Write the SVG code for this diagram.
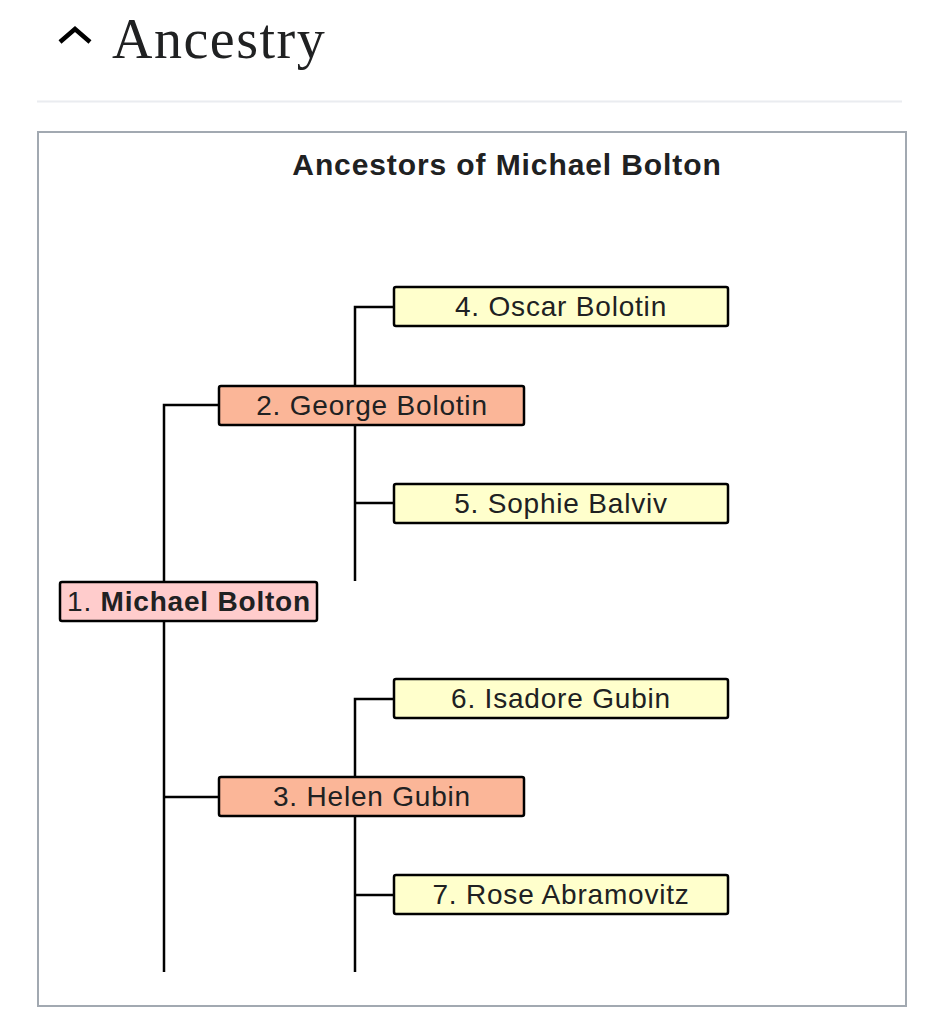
<svg xmlns="http://www.w3.org/2000/svg" width="939" height="1024" viewBox="0 0 939 1024">
<style>
.n rect{stroke:#000;stroke-width:2.5}
.n text{font-family:"Liberation Sans",Arial,sans-serif;font-size:28px;letter-spacing:0.8px;fill:#202122;text-anchor:middle}
.p1 rect{fill:#ffcccc}
.p2 rect{fill:#fbb698}
.p3 rect{fill:#ffffcc}
#connectors path{fill:none;stroke:#000;stroke-width:2.5}
</style>
<rect width="939" height="1024" fill="#fff"/>
<g id="header">
<path d="M60 42 L75 29 L90 42" fill="none" stroke="#000" stroke-width="4.5"/>
<text x="112" y="58" font-family="Liberation Serif,'Times New Roman',serif" font-size="56" letter-spacing="1.5" fill="#202122">Ancestry</text>
<line x1="37" y1="101.5" x2="902" y2="101.5" stroke="#eaecf0" stroke-width="2"/>
</g>
<rect x="38" y="132" width="868" height="874" fill="none" stroke="#a2a9b1" stroke-width="2"/>
<text x="507" y="175" font-family="Liberation Sans,Arial,sans-serif" font-size="30" font-weight="bold" letter-spacing="0.9" fill="#202122" text-anchor="middle">Ancestors of Michael Bolton</text>
<g id="connectors">
<path d="M164 972 V405 H219"/>
<path d="M164 797 H219"/>
<path d="M355 581 V307 H394"/>
<path d="M355 503 H394"/>
<path d="M355 972 V699 H394"/>
<path d="M355 895 H394"/>
</g>
<g id="n4" class="n p3"><rect x="394" y="287" width="334" height="39" rx="2"/><text x="561" y="316">4. Oscar Bolotin</text></g>
<g id="n2" class="n p2"><rect x="219" y="386" width="305" height="39" rx="2"/><text x="372" y="415">2. George Bolotin</text></g>
<g id="n5" class="n p3"><rect x="394" y="484" width="334" height="39" rx="2"/><text x="561" y="513">5. Sophie Balviv</text></g>
<g id="n1" class="n p1"><rect x="60" y="582" width="257" height="39" rx="2"/><text x="189" y="611">1. <tspan font-weight="bold">Michael Bolton</tspan></text></g>
<g id="n6" class="n p3"><rect x="394" y="679" width="334" height="39" rx="2"/><text x="561" y="708">6. Isadore Gubin</text></g>
<g id="n3" class="n p2"><rect x="219" y="777" width="305" height="39" rx="2"/><text x="372" y="806">3. Helen Gubin</text></g>
<g id="n7" class="n p3"><rect x="394" y="875" width="334" height="39" rx="2"/><text x="561" y="904">7. Rose Abramovitz</text></g>
</svg>
